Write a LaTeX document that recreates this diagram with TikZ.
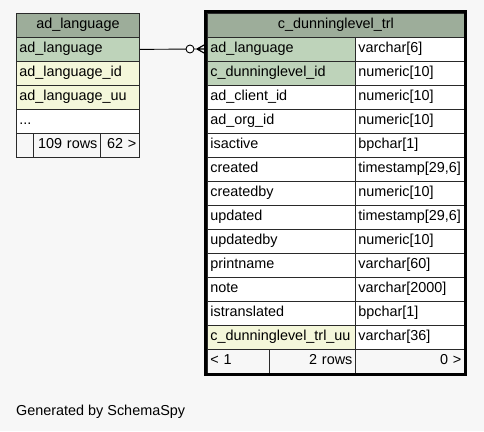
\documentclass[tikz,border=0pt]{standalone}
\usepackage{fontspec}
\setmainfont{Liberation Sans}
\definecolor{bg}{HTML}{F7F7F7}
\definecolor{hdr}{HTML}{9DAD9A}
\definecolor{keyc}{HTML}{BED3BA}
\definecolor{yel}{HTML}{F4F7DA}
\definecolor{lnc}{HTML}{2A2A2A}
\tikzset{
  cell/.style={draw=lnc, line width=0.8pt, anchor=north west, minimum height=24pt, inner xsep=3pt, inner ysep=0pt, text height=10pt, text depth=3pt, font=\fontsize{14.4}{16}\selectfont},
}
\newcommand{\mycell}[7]{\node[cell, fill=#5, text width=#4pt, align=#6] (#1) at (#2,#3) {#7};}
\begin{document}
\begin{tikzpicture}[x=1pt,y=-1pt]
\fill[bg] (0,0) rectangle (484,431);
\useasboundingbox (0,0) rectangle (484,431);
% left table
\mycell{lh}{16}{13}{117}{hdr}{center}{ad\_language}
\mycell{l1}{16}{37}{117}{keyc}{left}{ad\_language}
\mycell{l2}{16}{61}{117}{yel}{left}{ad\_language\_id}
\mycell{l3}{16}{85}{117}{yel}{left}{ad\_language\_uu}
\mycell{l4}{16}{109}{117}{white}{left}{...}
\mycell{lf1}{16}{133}{11}{bg}{left}{}
\mycell{lf2}{33}{133}{61}{bg}{right}{109 rows}
\mycell{lf3}{100}{133}{33}{bg}{right}{62 >}
% right table
\mycell{rh}{207}{13}{251}{hdr}{center}{c\_dunninglevel\_trl}
\mycell{r1n}{207}{37}{142}{keyc}{left}{ad\_language}
\mycell{r1t}{355}{37}{103}{white}{left}{varchar[6]}
\mycell{r2n}{207}{61}{142}{keyc}{left}{c\_dunninglevel\_id}
\mycell{r2t}{355}{61}{103}{white}{left}{numeric[10]}
\mycell{r3n}{207}{85}{142}{white}{left}{ad\_client\_id}
\mycell{r3t}{355}{85}{103}{white}{left}{numeric[10]}
\mycell{r4n}{207}{109}{142}{white}{left}{ad\_org\_id}
\mycell{r4t}{355}{109}{103}{white}{left}{numeric[10]}
\mycell{r5n}{207}{133}{142}{white}{left}{isactive}
\mycell{r5t}{355}{133}{103}{white}{left}{bpchar[1]}
\mycell{r6n}{207}{157}{142}{white}{left}{created}
\mycell{r6t}{355}{157}{103}{white}{left}{timestamp[29,6]}
\mycell{r7n}{207}{181}{142}{white}{left}{createdby}
\mycell{r7t}{355}{181}{103}{white}{left}{numeric[10]}
\mycell{r8n}{207}{205}{142}{white}{left}{updated}
\mycell{r8t}{355}{205}{103}{white}{left}{timestamp[29,6]}
\mycell{r9n}{207}{229}{142}{white}{left}{updatedby}
\mycell{r9t}{355}{229}{103}{white}{left}{numeric[10]}
\mycell{r10n}{207}{253}{142}{white}{left}{printname}
\mycell{r10t}{355}{253}{103}{white}{left}{varchar[60]}
\mycell{r11n}{207}{277}{142}{white}{left}{note}
\mycell{r11t}{355}{277}{103}{white}{left}{varchar[2000]}
\mycell{r12n}{207}{301}{142}{white}{left}{istranslated}
\mycell{r12t}{355}{301}{103}{white}{left}{bpchar[1]}
\mycell{r13n}{207}{325}{142}{yel}{left}{c\_dunninglevel\_trl\_uu}
\mycell{r13t}{355}{325}{103}{white}{left}{varchar[36]}
\mycell{rf1}{207}{349}{56}{bg}{left}{< 1}
\mycell{rf2}{269}{349}{80}{bg}{right}{2 rows}
\mycell{rf3}{355}{349}{103}{bg}{right}{0 >}
\draw[black, line width=3pt] (205.5,11.5) rectangle (465.5,374.5);
% connector
\coordinate (cf) at (197,49);
\draw[black, line width=0.9pt] (l1.east) -- (cf);
\draw[black, line width=0.9pt, fill=white] (190,49) circle (4);
\draw[black, line width=1.2pt] (cf) -- (205,44.5) (cf) -- (205,49) (cf) -- (205,53.5);
\node[anchor=base west, inner sep=0pt, font=\fontsize{14.4}{16}\selectfont] (gen) at (16,415) {Generated by SchemaSpy};
\end{tikzpicture}
\end{document}
